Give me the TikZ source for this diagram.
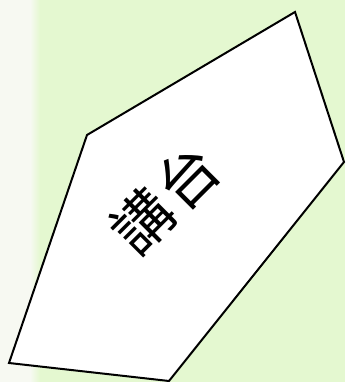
\documentclass[tikz,border=0pt]{standalone}
\usepackage{fontspec}
\newfontfamily\cjkfont{Noto Sans CJK TC}
\definecolor{stagegreen}{RGB}{228,248,208}
\definecolor{sidewhite}{RGB}{247,249,242}
\begin{document}
\begin{tikzpicture}[x=1pt,y=1pt]
    \useasboundingbox (0,0) rectangle (345,382);
    \fill[stagegreen] (0,0) rectangle (345,382);
    \fill[sidewhite] (0,0) rectangle (30,382);
    \shade[left color=sidewhite, right color=stagegreen] (30,0) rectangle (40,382);
    \coordinate (A) at (295,370);
    \coordinate (B) at (344,220);
    \coordinate (C) at (169,1);
    \coordinate (D) at (9,19);
    \coordinate (E) at (87,247);
    \draw[fill=white, line width=2pt, line join=miter] (A) -- (B) -- (C) -- (D) -- (E) -- cycle;
    \node[rotate=45, inner sep=0pt, font=\cjkfont\fontsize{60}{60}\selectfont] (lectern) at (165,183) {講\hspace{3pt}台};
  \end{tikzpicture}
\end{document}
